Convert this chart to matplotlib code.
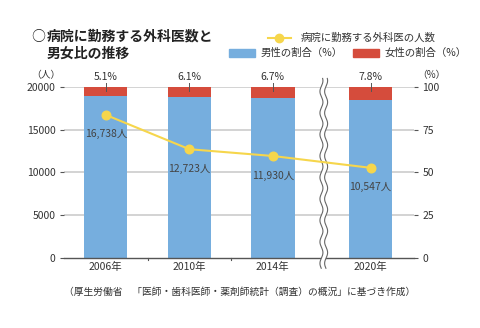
import numpy as np
import matplotlib
matplotlib.use("Agg")
import matplotlib.pyplot as plt
from matplotlib.lines import Line2D
from matplotlib.patches import Patch, Polygon

plt.rcParams['font.family'] = ['Noto Sans CJK JP', 'DejaVu Sans']

years = ['2006年', '2010年', '2014年', '2020年']
xpos = [0, 1, 2, 3.17]
female_pct = [5.1, 6.1, 6.7, 7.8]
male_pct = [100 - f for f in female_pct]
surgeons = [16738, 12723, 11930, 10547]
surgeon_labels = ['16,738人', '12,723人', '11,930人', '10,547人']
left_ticks = [0, 5000, 10000, 15000, 20000]
right_ticks = [0, 25, 50, 75, 100]

BLUE = '#76AEDE'
RED = '#D54C3C'
YEL = '#F6D64C'
TXT = '#333333'
GRID = '#CCCCCC'

fig = plt.figure(figsize=(4.8, 3.28), dpi=100)
ax = fig.add_axes([0.1333, 0.2134, 0.8625 - 0.1333, 0.7348 - 0.2134])
ax2 = ax.twinx()

xmin, xmax = -0.5, 3.69
ax.set_xlim(xmin, xmax)
ax.set_ylim(0, 100)
ax2.set_ylim(0, 20000)

# gridlines
for t in right_ticks[1:]:
    ax.axhline(t, color=GRID, lw=1.2, zorder=0)

w = 0.52
ax.bar(xpos, male_pct, width=w, color=BLUE, zorder=2)
ax.bar(xpos, female_pct, bottom=male_pct, width=w, color=RED, zorder=2)

# percent labels with small leader
for x, f in zip(xpos, female_pct):
    ax.plot([x, x], [97.5, 102.5], color='#555555', lw=0.7, zorder=3, clip_on=False)
    ax.text(x, 102.8, f'{f}%', ha='center', va='bottom', fontsize=7.5, color=TXT)

# right axis (percent)
ax.yaxis.tick_right()
ax.set_yticks(right_ticks)
ax.set_yticklabels([str(t) for t in right_ticks], fontsize=7.5, color=TXT)
ax.tick_params(axis='y', length=3, width=0.8, color='#555555', pad=3)
ax.set_xticks(xpos)
ax.set_xticklabels(years, fontsize=7.5, color=TXT)
ax.tick_params(axis='x', length=0, pad=3)
for x in [0.5, 1.5]:
    ax.plot([x, x], [0, -1.2], color='#555555', lw=0.8, clip_on=False, zorder=3)
for s in ['top', 'left', 'right']:
    ax.spines[s].set_visible(False)
for s in ['top', 'left', 'right', 'bottom']:
    ax2.spines[s].set_visible(False)
ax.spines['bottom'].set_color('#555555')
ax.spines['bottom'].set_linewidth(1.0)

# left axis (count)
ax2.yaxis.tick_left()
ax2.set_yticks(left_ticks)
ax2.set_yticklabels([str(t) for t in left_ticks], fontsize=7.5, color=TXT)
ax2.tick_params(axis='y', length=3, width=0.8, color='#555555', pad=3)

ax2.plot(xpos, surgeons, color=YEL, lw=1.5, marker='o', ms=6.2, mfc=YEL, mec=YEL, zorder=5)
for x, v, lab in zip(xpos, surgeons, surgeon_labels):
    ax2.annotate(lab, (x, v), xytext=(0, -10.5), textcoords='offset points', ha='center', va='top',
                 fontsize=7.5, color='#444444')

# unit labels
ax2.text(-0.01, 1.04, '（人）', transform=ax2.transAxes, ha='right', va='bottom', fontsize=7, color=TXT)
ax2.text(1.01, 1.04, '（%）', transform=ax2.transAxes, ha='left', va='bottom', fontsize=7, color=TXT)

# break mark (wavy double lines)
xb = 2.61
yy = np.linspace(-6, 105, 400)
amp = 0.018
wav = amp * np.sin(yy / 2.0)
left_line = xb - 0.028 + wav
right_line = xb + 0.028 + wav
poly = np.vstack([np.column_stack([left_line, yy]), np.column_stack([right_line[::-1], yy[::-1]])])
ax.add_patch(Polygon(poly, closed=True, facecolor='white', edgecolor='none', zorder=4, clip_on=False))
ax.plot(left_line, yy, color='#666666', lw=0.8, zorder=4, clip_on=False)
ax.plot(right_line, yy, color='#666666', lw=0.8, zorder=4, clip_on=False)

# title
fig.text(0.066, 0.91, '○', ha='left', va='top', fontsize=10, color='#222222')
fig.text(0.097, 0.91, '病院に勤務する外科医数と\n男女比の推移', ha='left', va='top', fontsize=10,
         fontweight='bold', color='#222222', linespacing=1.3)

# legend
h1 = Line2D([0], [0], color=YEL, lw=1.5, marker='o', ms=6, mfc=YEL, mec=YEL)
leg1 = fig.legend([h1], ['病院に勤務する外科医の人数'], loc='center left', bbox_to_anchor=(0.558, 0.884),
                  frameon=False, fontsize=7.5, handlelength=2.2, handletextpad=1.0, borderpad=0, borderaxespad=0)
for t in leg1.get_texts():
    t.set_color(TXT)
h2 = Patch(color=BLUE)
h3 = Patch(color=RED)
leg2 = fig.legend([h2, h3], ['男性の割合（%）', '女性の割合（%）'], loc='center left', bbox_to_anchor=(0.478, 0.838),
                  ncol=2, frameon=False, fontsize=7.5, handlelength=2.5, handleheight=0.8, handletextpad=0.5,
                  columnspacing=1.0, borderpad=0, borderaxespad=0)
for t in leg2.get_texts():
    t.set_color(TXT)

# source
fig.text(0.5, 0.11, '（厚生労働省　「医師・歯科医師・薬剤師統計（調査）の概況」に基づき作成）', ha='center', va='center',
         fontsize=7, color=TXT)

fig.savefig('out.png', dpi=100)
